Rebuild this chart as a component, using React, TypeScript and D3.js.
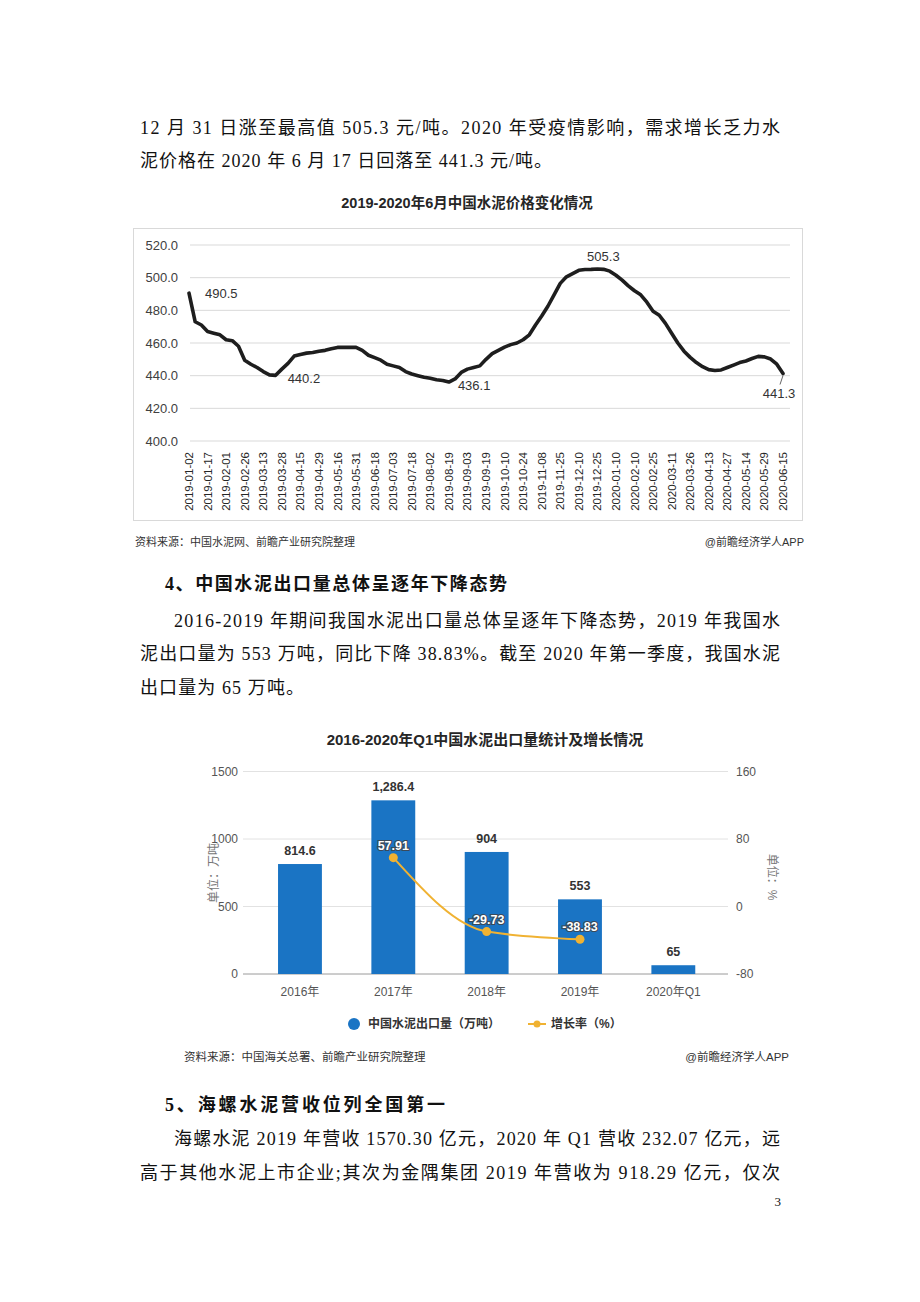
import React from 'react';
import * as d3 from 'd3';

// ---------- DATA ----------
const priceDateLabels = [
  '2019-01-02','2019-01-17','2019-02-01','2019-02-26','2019-03-13','2019-03-28','2019-04-15','2019-04-29',
  '2019-05-16','2019-05-31','2019-06-18','2019-07-03','2019-07-18','2019-08-02','2019-08-19','2019-09-03',
  '2019-09-19','2019-10-10','2019-10-24','2019-11-08','2019-11-25','2019-12-10','2019-12-25','2020-01-10',
  '2020-02-10','2020-02-25','2020-03-11','2020-03-26','2020-04-13','2020-04-27','2020-05-14','2020-05-29','2020-06-15'
];
const priceValues = [
  490.5,473,471,467,466,465,462,461.4,458,449.5,447,445,442.5,440.5,440.2,444,
  447.5,452,453,453.8,454.2,455,455.5,456.5,457.3,457.3,457.3,457.3,455.5,452.5,451,449.5,
  447,446,445,442.5,441,440,439,438.4,437.5,437,436.1,438,442,444,445,446,
  450,453.5,455.5,457.5,459,460,462,465,471,476.5,482.5,489.5,496.5,500.5,502.5,504.5,
  505,505.1,505.3,505.1,504,501.5,498.5,495,492,489.5,485,479.5,477,472,466,460,
  455,451.2,448,445.5,443.7,443.2,443.5,445,446.5,448,449,450.5,451.8,451.5,450.2,447,441.3
];
const priceAnnotIndex = [0, 14, 42, 66, 96];
const priceAnnotText = ['490.5', '440.2', '436.1', '505.3', '441.3'];
const priceTicks = [400, 420, 440, 460, 480, 500, 520];

const exportCategories = ['2016年', '2017年', '2018年', '2019年', '2020年Q1'];
const exportValues = [814.6, 1286.4, 904, 553, 65];
const exportValueLabels = ['814.6', '1,286.4', '904', '553', '65'];
const growthCategories = ['2017年', '2018年', '2019年'];
const growthValues = [57.91, -29.73, -38.83];
const leftTicks = [0, 500, 1000, 1500];
const rightTicks = [-80, 0, 80, 160];

// ---------- STYLE ----------
const bodyFont = "'Liberation Serif','Noto Sans CJK SC',serif";
const headFont = "'Liberation Serif','Noto Sans CJK SC',sans-serif";
const chartFont = "'Liberation Sans','Noto Sans CJK SC',sans-serif";

type Line = { text: string; x: number; y: number; w: number; bold?: boolean };
const bodyLines: Line[] = [
  { text: '12 月 31 日涨至最高值 505.3 元/吨。2020 年受疫情影响，需求增长乏力水', x: 140, y: 134, w: 640 },
  { text: '泥价格在 2020 年 6 月 17 日回落至 441.3 元/吨。', x: 140, y: 167, w: 412 },
  { text: '4、中国水泥出口量总体呈逐年下降态势', x: 165, y: 590, w: 342, bold: true },
  { text: '2016-2019 年期间我国水泥出口量总体呈逐年下降态势，2019 年我国水', x: 174, y: 627, w: 606 },
  { text: '泥出口量为 553 万吨，同比下降 38.83%。截至 2020 年第一季度，我国水泥', x: 140, y: 660, w: 640 },
  { text: '出口量为 65 万吨。', x: 140, y: 694, w: 164 },
  { text: '5、海螺水泥营收位列全国第一', x: 165, y: 1111, w: 280, bold: true },
  { text: '海螺水泥 2019 年营收 1570.30 亿元，2020 年 Q1 营收 232.07 亿元，远', x: 174, y: 1145, w: 606 },
  { text: '高于其他水泥上市企业;其次为金隅集团 2019 年营收为 918.29 亿元，仅次', x: 140, y: 1179, w: 640 },
];

function PriceChart() {
  const x = d3.scaleLinear().domain([0, priceValues.length - 1]).range([189, 783]);
  const y = d3.scaleLinear().domain([400, 520]).range([441, 245]);
  const line = d3.line<number>().x((_, i) => x(i)).y((d) => y(d));
  const step = (priceValues.length - 1) / (priceDateLabels.length - 1);
  const annotOffsets = [
    { dx: 16, dy: 5, anchor: 'start' },
    { dx: 12, dy: 8, anchor: 'start' },
    { dx: 9, dy: 8, anchor: 'start' },
    { dx: 6, dy: -8, anchor: 'middle' },
    { dx: -4, dy: 24, anchor: 'middle' },
  ];
  return (
    <g>
      <text x={467} y={208} textAnchor="middle" fontFamily={chartFont} fontWeight="bold" fontSize={14.5} fill="#262626">2019-2020年6月中国水泥价格变化情况</text>
      <rect x={133.5} y={228.5} width={669} height={292} fill="none" stroke="#d9d9d9" />
      {priceTicks.map((t) => (
        <g key={t}>
          <line x1={190} x2={790} y1={y(t)} y2={y(t)} stroke="#d9d9d9" strokeWidth={1} />
          <text x={178} y={y(t)} dy="0.35em" textAnchor="end" fontFamily={chartFont} fontSize={13} fill="#404040">{t.toFixed(1)}</text>
        </g>
      ))}
      <path d={line(priceValues) || ''} fill="none" stroke="#1e1e1e" strokeWidth={3.6} strokeLinejoin="round" strokeLinecap="round" />
      {priceDateLabels.map((d, i) => (
        <text key={d} transform={`translate(${x(i * step)},452) rotate(-90)`} dy="0.35em" textAnchor="end" fontFamily={chartFont} fontSize={11.5} fill="#262626">{d}</text>
      ))}
      {priceAnnotIndex.map((idx, k) => (
        <text key={idx} x={x(idx) + annotOffsets[k].dx} y={y(priceValues[idx]) + annotOffsets[k].dy} textAnchor={annotOffsets[k].anchor as any} fontFamily={chartFont} fontSize={13} fill="#333">{priceAnnotText[k]}</text>
      ))}
      <line x1={x(96)} x2={x(96) - 3} y1={y(priceValues[96]) + 2} y2={y(priceValues[96]) + 11} stroke="#666" strokeWidth={1} />
      <text x={135} y={546} fontFamily={chartFont} fontSize={11} fill="#333">资料来源：中国水泥网、前瞻产业研究院整理</text>
      <text x={804} y={546} textAnchor="end" fontFamily={chartFont} fontSize={11} fill="#333">@前瞻经济学人APP</text>
    </g>
  );
}

function ExportChart() {
  const x = d3.scaleBand().domain(exportCategories).range([253.3, 720]).padding(0);
  const yL = d3.scaleLinear().domain([0, 1500]).range([974, 771.5]);
  const yR = d3.scaleLinear().domain([-80, 160]).range([974, 771.5]);
  const bw = x.bandwidth() * 0.47;
  const cx = (c: string) => (x(c) as number) + x.bandwidth() / 2;
  const pts = growthCategories.map((c, i) => [cx(c), yR(growthValues[i])] as [number, number]);
  const gline = d3.line().curve(d3.curveMonotoneX);
  const blue = '#1a74c4';
  const orange = '#f0b232';
  return (
    <g>
      <text x={485} y={745} textAnchor="middle" fontFamily={chartFont} fontWeight="bold" fontSize={15} fill="#262626">2016-2020年Q1中国水泥出口量统计及增长情况</text>
      {leftTicks.map((t, i) => (
        <g key={t}>
          <line x1={243} x2={728} y1={yL(t)} y2={yL(t)} stroke={t === 0 ? '#9a9a9a' : '#e2e2e2'} strokeWidth={1} />
          <text x={238} y={yL(t)} dy="0.35em" textAnchor="end" fontFamily={chartFont} fontSize={12} fill="#555">{t}</text>
          <text x={736} y={yR(rightTicks[i])} dy="0.35em" textAnchor="start" fontFamily={chartFont} fontSize={12} fill="#555">{rightTicks[i]}</text>
        </g>
      ))}
      <text transform="translate(214,873) rotate(-90)" textAnchor="middle" dy="0.35em" fontFamily={chartFont} fontSize={12} fill="#777">单位：万吨</text>
      <text transform="translate(772,877) rotate(90)" textAnchor="middle" dy="0.35em" fontFamily={chartFont} fontSize={12} fill="#777">单位：%</text>
      {exportCategories.map((c, i) => (
        <g key={c}>
          <rect x={cx(c) - bw / 2} y={yL(exportValues[i])} width={bw} height={yL(0) - yL(exportValues[i])} fill={blue} />
          <text x={cx(c)} y={yL(exportValues[i]) - 9} textAnchor="middle" fontFamily={chartFont} fontWeight="bold" fontSize={12.5} fill="#333">{exportValueLabels[i]}</text>
          <text x={cx(c)} y={992} dy="0.35em" textAnchor="middle" fontFamily={chartFont} fontSize={12} fill="#555">{c}</text>
        </g>
      ))}
      <path d={gline(pts) || ''} fill="none" stroke={orange} strokeWidth={2} />
      {pts.map((p, i) => (
        <g key={i}>
          <circle cx={p[0]} cy={p[1]} r={4.5} fill={orange} />
          <text x={p[0]} y={p[1] - 8} textAnchor="middle" fontFamily={chartFont} fontWeight="bold" fontSize={12.5} fill="#fff" stroke="#3a4a5a" strokeWidth={2.2} style={{ paintOrder: 'stroke' }}>{growthValues[i].toFixed(2)}</text>
        </g>
      ))}
      <circle cx={354} cy={1024} r={6} fill={blue} />
      <text x={368} y={1024} dy="0.35em" fontFamily={chartFont} fontWeight="bold" fontSize={12} fill="#333">中国水泥出口量（万吨）</text>
      <line x1={528} x2={546} y1={1024} y2={1024} stroke={orange} strokeWidth={2} />
      <circle cx={537} cy={1024} r={3.5} fill={orange} />
      <text x={551} y={1024} dy="0.35em" fontFamily={chartFont} fontWeight="bold" fontSize={12} fill="#333">增长率（%）</text>
      <text x={184} y={1061} fontFamily={chartFont} fontSize={11.5} fill="#333">资料来源：中国海关总署、前瞻产业研究院整理</text>
      <text x={789} y={1061} textAnchor="end" fontFamily={chartFont} fontSize={11.5} fill="#333">@前瞻经济学人APP</text>
    </g>
  );
}

export default function App() {
  return (
    <svg width={920} height={1302} viewBox="0 0 920 1302" style={{ position: 'absolute', left: 0, top: 0, background: '#fff' }}>
      <rect x={0} y={0} width={920} height={1302} fill="#fff" />
      {bodyLines.map((l, i) => (
        <text key={i} x={l.x} y={l.y} textLength={l.w} lengthAdjust="spacing" fontFamily={l.bold ? headFont : bodyFont} fontWeight={l.bold ? 'bold' : 'normal'} fontSize={18} fill="#111">{l.text}</text>
      ))}
      <text x={781} y={1206} textAnchor="end" fontFamily={bodyFont} fontSize={13} fill="#111">3</text>
      <PriceChart />
      <ExportChart />
    </svg>
  );
}
